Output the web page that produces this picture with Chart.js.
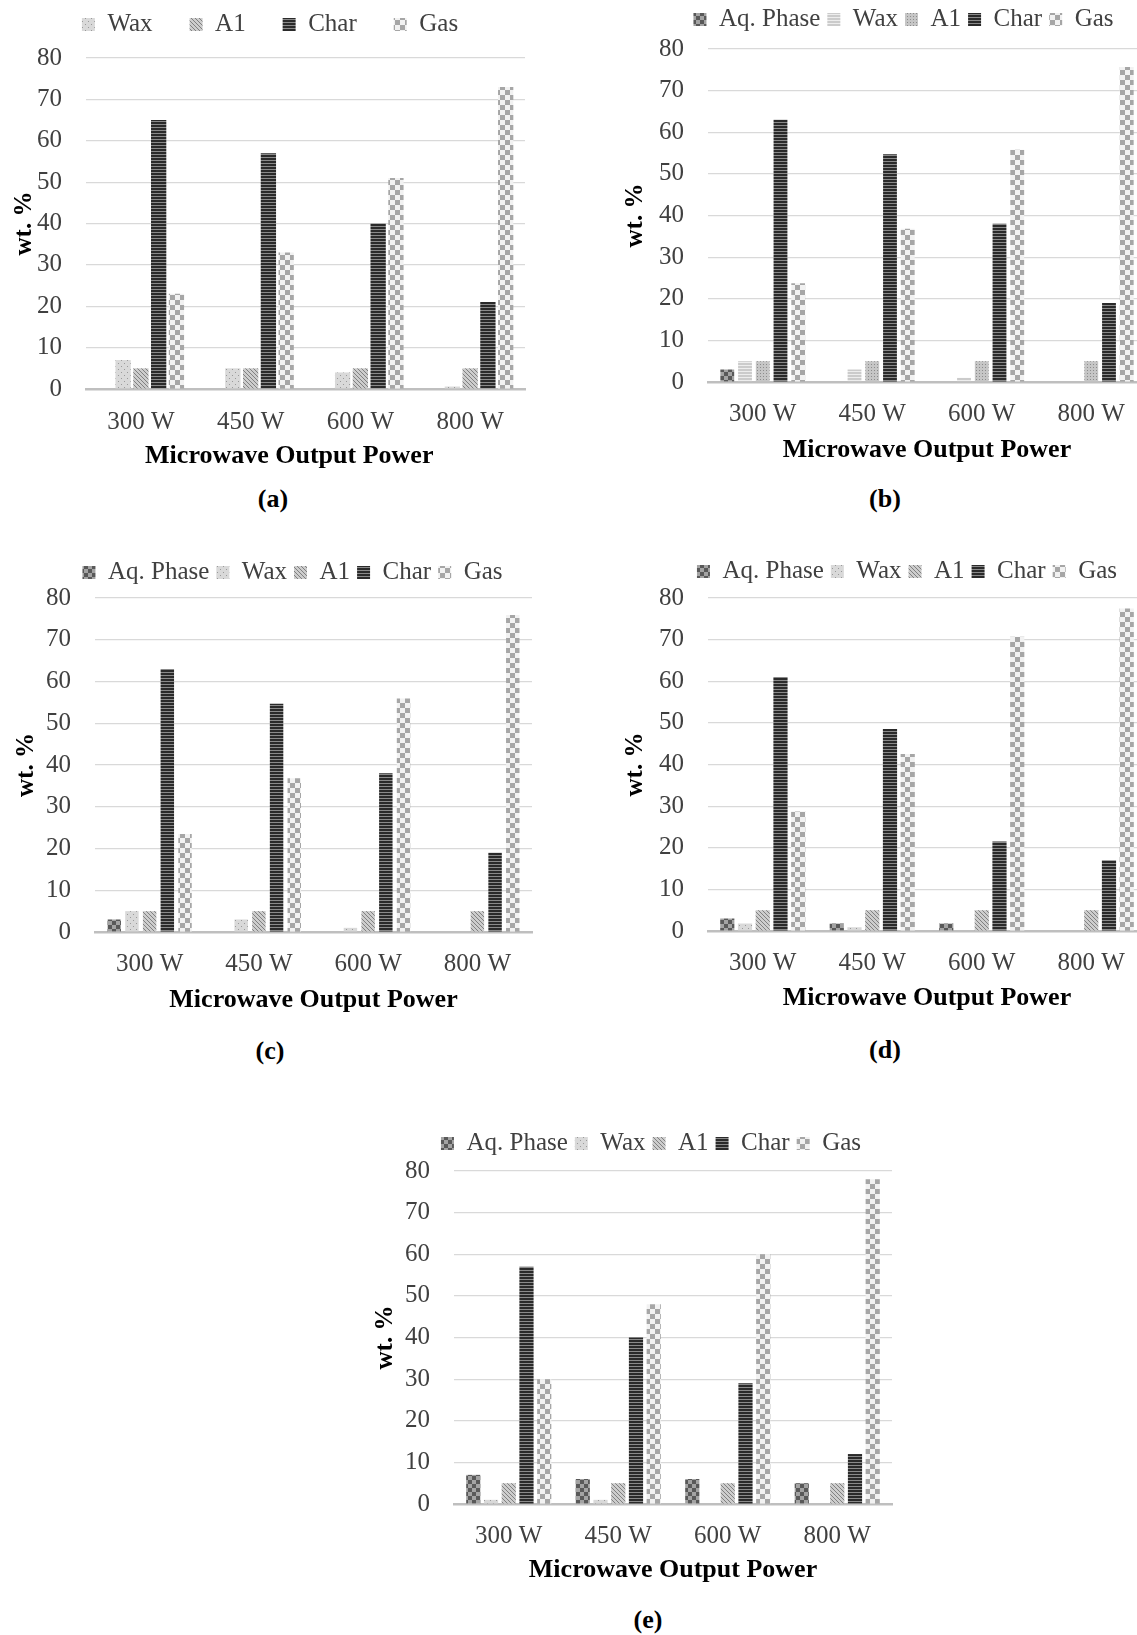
<!DOCTYPE html>
<html lang="en">
<head>
  <meta charset="UTF-8">
  <title>Product yields vs microwave output power</title>
  <script src="https://cdn.jsdelivr.net/npm/chart.js"></script>
  <style>
    body {
      margin: 0;
      background: #fff;
      font-family: 'Liberation Serif', 'Times New Roman', serif;
    }
    #page {
      position: relative;
      width: 1137px;
      height: 1635px;
      overflow: hidden;
      background: #fff;
    }
    canvas {
      position: absolute;
    }
    .cap {
      position: absolute;
      font-weight: bold;
      font-size: 26px;
      color: #000;
      transform: translate(-50%, -50%);
      white-space: nowrap;
    }
  </style>
</head>
<body>
<div id="page">
  <canvas id="ca" width="540" height="501" style="left:0px;top:-25px"></canvas>
  <canvas id="cb" width="607" height="470" style="left:600px;top:0px"></canvas>
  <canvas id="cc" width="585" height="467" style="left:0px;top:553px"></canvas>
  <canvas id="cd" width="614" height="466" style="left:600px;top:552px"></canvas>
  <canvas id="ce" width="582" height="466" style="left:360px;top:1124px"></canvas>

  <div class="cap" style="left:273px;top:499px">(a)</div>
  <div class="cap" style="left:885px;top:499px">(b)</div>
  <div class="cap" style="left:270px;top:1051px">(c)</div>
  <div class="cap" style="left:885px;top:1050px">(d)</div>
  <div class="cap" style="left:648px;top:1620px">(e)</div>
</div>

<script>
  // categories and axis
  const powerLabels = ['300 W', '450 W', '600 W', '800 W'];
  const yMax = 80;
  const yStep = 10;

  // (a) - no aqueous phase, the slot stays empty
  const aAq   = [null, null, null, null];
  const aWax  = [7, 5, 4, 0.6];
  const aA1   = [5, 5, 5, 5];
  const aChar = [65, 57, 40, 21];
  const aGas  = [23, 33, 51, 73];

  // (b)
  const bAq   = [3, 0, 0, 0];
  const bWax  = [5, 3, 1, 0];
  const bA1   = [5, 5, 5, 5];
  const bChar = [63, 54.7, 38, 19];
  const bGas  = [23.7, 36.8, 55.8, 75.7];

  // (c)
  const cAq   = [3, 0, 0, 0];
  const cWax  = [5, 3, 1, 0];
  const cA1   = [5, 5, 5, 5];
  const cChar = [63, 54.7, 38, 19];
  const cGas  = [23.5, 36.8, 55.9, 75.9];

  // (d)
  const dAq   = [3, 1.8, 1.8, 0];
  const dWax  = [1.8, 0.9, 0, 0];
  const dA1   = [5, 5, 5, 5];
  const dChar = [61, 48.5, 21.5, 17];
  const dGas  = [28.7, 42.5, 70.7, 77.5];

  // (e)
  const eAq   = [7, 6, 6, 5];
  const eWax  = [1, 1, 0, 0];
  const eA1   = [5, 5, 5, 5];
  const eChar = [57, 40, 29, 12];
  const eGas  = [30, 48, 60, 78];

  const serif = "'Liberation Serif', 'Times New Roman', serif";

  // small repeating fills, like the Excel pattern fills
  function tile(w, h, paint) {
    const c = document.createElement('canvas');
    c.width = w;
    c.height = h;
    const g = c.getContext('2d');
    paint(g, w, h);
    return g.createPattern(c, 'repeat');
  }

  const aqFill = tile(8, 8, (g) => {
    g.fillStyle = '#a3a3a3'; g.fillRect(0, 0, 8, 8);
    g.fillStyle = '#595959'; g.fillRect(0, 0, 4, 4); g.fillRect(4, 4, 4, 4);
  });
  const dotFill = tile(6, 6, (g) => {
    g.fillStyle = '#d9d9d9'; g.fillRect(0, 0, 6, 6);
    g.fillStyle = '#9a9a9a'; g.fillRect(1, 1, 1, 1); g.fillRect(4, 4, 1, 1);
  });
  const lineFill = tile(4, 3, (g) => {
    g.fillStyle = '#cbcbcb'; g.fillRect(0, 0, 4, 3);
    g.fillStyle = '#ededed'; g.fillRect(0, 2, 4, 1);
  });
  const diagFill = tile(4, 4, (g) => {
    g.fillStyle = '#cdcdcd'; g.fillRect(0, 0, 4, 4);
    g.fillStyle = '#808080';
    for (let i = 0; i < 4; i++) g.fillRect(i, i, 1, 1);
  });
  const fineDotFill = tile(3, 3, (g) => {
    g.fillStyle = '#c6c6c6'; g.fillRect(0, 0, 3, 3);
    g.fillStyle = '#8c8c8c'; g.fillRect(1, 1, 1, 1);
  });
  const charFill = tile(4, 3, (g) => {
    g.fillStyle = '#2a2a2a'; g.fillRect(0, 0, 4, 3);
    g.fillStyle = '#8a8a8a'; g.fillRect(0, 2, 4, 1);
  });
  const gasFill = tile(10, 10, (g) => {
    g.fillStyle = '#f2f2f2'; g.fillRect(0, 0, 10, 10);
    g.fillStyle = '#a6a6a6'; g.fillRect(0, 0, 5, 5); g.fillRect(5, 5, 5, 5);
  });

  function panel(id, series, lay) {
    const datasets = series.map(s => ({
      label: s[0],
      data: s[1],
      backgroundColor: s[2],
      borderWidth: 0,
      categoryPercentage: 0.81,
      barPercentage: lay.barPct
    }));

    return new Chart(document.getElementById(id), {
      type: 'bar',
      data: { labels: powerLabels, datasets: datasets },
      options: {
        responsive: false,
        animation: false,
        layout: { padding: 0 },
        plugins: {
          legend: {
            position: 'top',
            labels: {
              font: { family: serif, size: 25 },
              color: '#404040',
              boxWidth: 13,
              boxHeight: 13,
              padding: lay.legendPad,
              filter: (item) => item.text !== lay.hide
            }
          },
          // empty title used as a gap between legend and plot
          title: {
            display: true,
            text: '',
            weight: 500,
            padding: { top: lay.gap, bottom: 0 },
            font: { size: 10, lineHeight: 0 }
          },
          tooltip: { enabled: false }
        },
        scales: {
          x: {
            grid: { display: false },
            border: { color: '#bfbfbf', width: 2.5 },
            ticks: {
              font: { family: serif, size: 25 },
              color: '#404040',
              padding: lay.tickPad,
              maxRotation: 0,
              autoSkip: false
            },
            title: {
              display: true,
              // trailing spaces nudge the centred title left, as in (a)
              text: 'Microwave Output Power' + (lay.titleNudge || ''),
              font: { family: serif, size: 26, weight: 'bold' },
              color: '#000',
              padding: { top: 0, bottom: 4 }
            },
            afterFit: (s) => { s.height = lay.xH; }
          },
          y: {
            min: 0,
            max: yMax,
            ticks: {
              stepSize: yStep,
              font: { family: serif, size: 25 },
              color: '#404040',
              padding: 24
            },
            grid: { color: '#d9d9d9', lineWidth: 1.2, drawTicks: false },
            border: { display: false },
            title: {
              display: true,
              text: 'wt. %',
              font: { family: serif, size: 25, weight: 'bold' },
              color: '#000',
              padding: { top: lay.yTitlePad, bottom: 0 }
            },
            afterFit: (s) => { s.width = lay.yW; }
          },
          // blank right box so the legend centres like the original
          pad: {
            type: 'linear',
            axis: 'y',
            position: 'right',
            grid: { display: false },
            border: { display: false },
            ticks: { display: false },
            afterFit: (s) => { s.width = lay.rightW; }
          }
        }
      }
    });
  }

  panel('ca', [
    ['Aq. Phase', aAq, aqFill],
    ['Wax', aWax, dotFill],
    ['A1', aA1, diagFill],
    ['Char', aChar, charFill],
    ['Gas', aGas, gasFill]
  ], { hide: 'Aq. Phase', legendPad: 37, gap: 11, xH: 87, yW: 86, rightW: 15, yTitlePad: 10, tickPad: 10, barPct: 0.86,
       titleNudge: '\u00a0\u00a0\u00a0\u00a0\u00a0' });

  panel('cb', [
    ['Aq. Phase', bAq, aqFill],
    ['Wax', bWax, lineFill],
    ['A1', bA1, fineDotFill],
    ['Char', bChar, charFill],
    ['Gas', bGas, gasFill]
  ], { hide: null, legendPad: 7, gap: 7, xH: 88, yW: 108, rightW: 61, yTitlePad: 21, tickPad: 9, barPct: 0.78 });

  panel('cc', [
    ['Aq. Phase', cAq, aqFill],
    ['Wax', cWax, dotFill],
    ['A1', cA1, diagFill],
    ['Char', cChar, charFill],
    ['Gas', cGas, gasFill]
  ], { hide: null, legendPad: 7, gap: 3, xH: 88, yW: 95, rightW: 53, yTitlePad: 12, tickPad: 9, barPct: 0.76 });

  panel('cd', [
    ['Aq. Phase', dAq, aqFill],
    ['Wax', dWax, dotFill],
    ['A1', dA1, diagFill],
    ['Char', dChar, charFill],
    ['Gas', dGas, gasFill]
  ], { hide: null, legendPad: 7, gap: 4, xH: 87, yW: 108, rightW: 68, yTitlePad: 21, tickPad: 9, barPct: 0.8 });

  panel('ce', [
    ['Aq. Phase', eAq, aqFill],
    ['Wax', eWax, dotFill],
    ['A1', eA1, diagFill],
    ['Char', eChar, charFill],
    ['Gas', eGas, gasFill]
  ], { hide: null, legendPad: 7, gap: 5, xH: 86, yW: 94, rightW: 50, yTitlePad: 10.5, tickPad: 9, barPct: 0.8 });
</script>
</body>
</html>
